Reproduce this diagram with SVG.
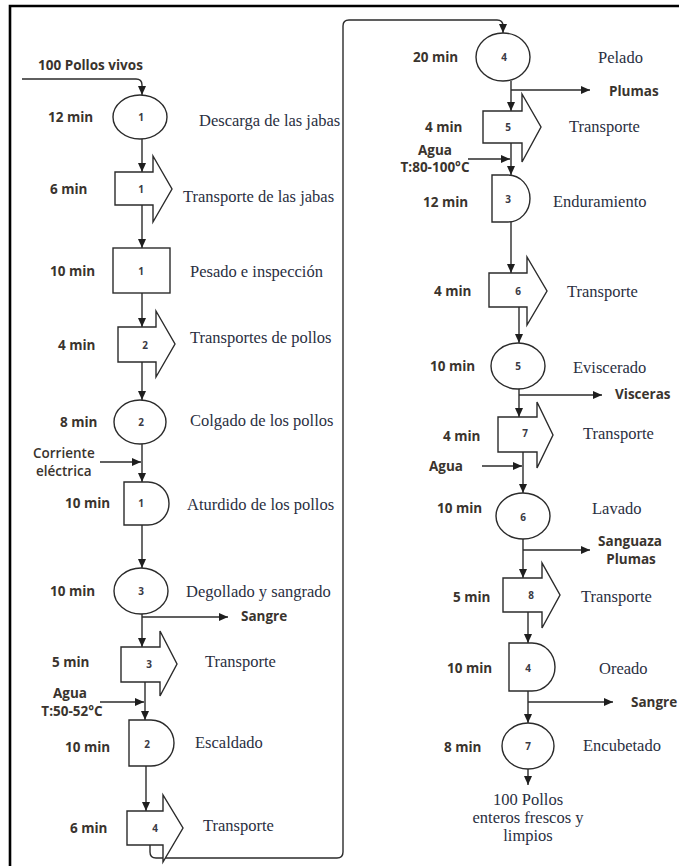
<svg xmlns="http://www.w3.org/2000/svg" width="679" height="866" viewBox="0 0 679 866">
<style>
.sh{fill:#fff;stroke:#2b2b2b;stroke-width:1.4}
.ln{fill:none;stroke:#2b2b2b;stroke-width:1.4}
.ar{marker-end:url(#ah)}
.t{font-family:"Open Sans","Liberation Sans",sans-serif;font-weight:bold;font-size:13.5px;fill:#3a342e;dominant-baseline:central}
.n{font-family:"Open Sans","Liberation Sans",sans-serif;font-weight:bold;font-size:10px;fill:#3a3a44;text-anchor:middle;dominant-baseline:central}
.s{font-family:"Liberation Serif","Times New Roman",serif;font-size:16.5px;fill:#2a2f3f;dominant-baseline:central}
.m{text-anchor:middle}
</style>
<defs>
<marker id="ah" markerUnits="userSpaceOnUse" markerWidth="9" markerHeight="8" refX="9" refY="4" orient="auto">
<path d="M0,0 L9,4 L0,8 z" fill="#1e1e1e"/>
</marker>
</defs>
<rect width="679" height="866" fill="#fff"/>
<g id="frame">
<path d="M10,866 V6 H679" fill="none" stroke="#000" stroke-width="2.6"/>
</g>
<g id="connectors">
<path class="ln ar" d="M22,79 H136 Q142,79 142,85 V95"/>
<path class="ln ar" d="M142,139 V172"/>
<path class="ln ar" d="M142,205 V248"/>
<path class="ln ar" d="M142,293 V327"/>
<path class="ln ar" d="M142,362 V400"/>
<path class="ln ar" d="M100,462 H141"/>
<path class="ln ar" d="M142,444 V482"/>
<path class="ln ar" d="M142,525 V568"/>
<path class="ln ar" d="M142,614 V647"/>
<path class="ln ar" d="M142,617 H228"/>
<path class="ln ar" d="M100,702 H144"/>
<path class="ln ar" d="M145,682 V720"/>
<path class="ln ar" d="M146,766 V811"/>
<path class="ln ar" d="M150,845 V852 Q150,858 156,858 H337 Q343,858 343,852 V26 Q343,20 349,20 H497 Q503,20 503,26 V33"/>
<path class="ln ar" d="M511,81 V111"/>
<path class="ln ar" d="M511,90 H590"/>
<path class="ln ar" d="M468,159 H510"/>
<path class="ln ar" d="M511,143 V175"/>
<path class="ln ar" d="M511,222 V273"/>
<path class="ln ar" d="M519,307 V343"/>
<path class="ln ar" d="M519,389 V417"/>
<path class="ln ar" d="M519,395 H602"/>
<path class="ln ar" d="M482,466 H522"/>
<path class="ln ar" d="M523,452 V493"/>
<path class="ln ar" d="M523,539 V578"/>
<path class="ln ar" d="M523,550 H590"/>
<path class="ln ar" d="M528,612 V643"/>
<path class="ln ar" d="M528,691 V723"/>
<path class="ln ar" d="M528,702 H613"/>
<path class="ln ar" d="M528,769 V785"/>
</g>
<g id="input">
<text class="t" x="38" y="65">100 Pollos vivos</text>
</g>
<g id="op1">
<ellipse class="sh" cx="140" cy="117" rx="27" ry="22"/>
<text class="n" x="141" y="117">1</text>
<text class="t" x="48" y="117">12 min</text>
<text class="s" x="199" y="120">Descarga de las jabas</text>
</g>
<g id="tr1">
<path class="sh" d="M115,172 H153 V156 L172,189 L153,222 V205 H115 Z"/>
<text class="n" x="141" y="189">1</text>
<text class="t" x="50" y="189">6 min</text>
<text class="s" x="183" y="196">Transporte de las jabas</text>
</g>
<g id="insp1">
<rect class="sh" x="113" y="248" width="57" height="45"/>
<text class="n" x="141" y="271">1</text>
<text class="t" x="50" y="271">10 min</text>
<text class="s" x="190" y="271">Pesado e inspección</text>
</g>
<g id="tr2">
<path class="sh" d="M118,327 H156 V311 L175,344 L156,377 V362 H118 Z"/>
<text class="n" x="145" y="345">2</text>
<text class="t" x="58" y="345">4 min</text>
<text class="s" x="190" y="337">Transportes de pollos</text>
</g>
<g id="op2">
<ellipse class="sh" cx="140" cy="422" rx="26" ry="22"/>
<text class="n" x="141" y="422">2</text>
<text class="t" x="60" y="422">8 min</text>
<text class="s" x="190" y="420">Colgado de los pollos</text>
</g>
<g id="in-corriente">
<text class="t" x="33" y="453" style="font-weight:600">Corriente</text>
<text class="t" x="36" y="471" style="font-weight:600">eléctrica</text>
</g>
<g id="d1">
<path class="sh" d="M124,482 H148 A21,21.5 0 0 1 148,525 H124 Z"/>
<text class="n" x="141" y="503">1</text>
<text class="t" x="65" y="503">10 min</text>
<text class="s" x="187" y="504">Aturdido de los pollos</text>
</g>
<g id="op3">
<ellipse class="sh" cx="141" cy="591" rx="27" ry="23"/>
<text class="n" x="141" y="591">3</text>
<text class="t" x="50" y="591">10 min</text>
<text class="s" x="186" y="591">Degollado y sangrado</text>
</g>
<g id="out-sangre1">
<text class="t" x="241" y="616">Sangre</text>
</g>
<g id="tr3">
<path class="sh" d="M121,647 H160 V631 L177,664 L160,696 V682 H121 Z"/>
<text class="n" x="149" y="664">3</text>
<text class="t" x="52" y="662">5 min</text>
<text class="s" x="205" y="661">Transporte</text>
</g>
<g id="in-agua1">
<text class="t m" x="70" y="693">Agua</text>
<text class="t m" x="72" y="711">T:50-52°C</text>
</g>
<g id="d2">
<path class="sh" d="M129,720 H151 A23,23 0 0 1 151,766 H129 Z"/>
<text class="n" x="147" y="744">2</text>
<text class="t" x="65" y="747">10 min</text>
<text class="s" x="195" y="742">Escaldado</text>
</g>
<g id="tr4">
<path class="sh" d="M127,811 H163 V795 L183,828 L163,862 V845 H127 Z"/>
<text class="n" x="155" y="828">4</text>
<text class="t" x="70" y="828">6 min</text>
<text class="s" x="203" y="825">Transporte</text>
</g>
<g id="op4">
<ellipse class="sh" cx="503" cy="57" rx="27" ry="24"/>
<text class="n" x="504" y="57">4</text>
<text class="t" x="413" y="57">20 min</text>
<text class="s" x="598" y="57">Pelado</text>
</g>
<g id="out-plumas1">
<text class="t" x="609" y="91">Plumas</text>
</g>
<g id="tr5">
<path class="sh" d="M483,111 H522 V94 L541,127 L522,162 V143 H483 Z"/>
<text class="n" x="508" y="127">5</text>
<text class="t" x="425" y="127">4 min</text>
<text class="s" x="569" y="126">Transporte</text>
</g>
<g id="in-agua2">
<text class="t m" x="435" y="150">Agua</text>
<text class="t m" x="435" y="167">T:80-100°C</text>
</g>
<g id="d3">
<path class="sh" d="M492,175 H508 A22,23.5 0 0 1 508,222 H492 Z"/>
<text class="n" x="508" y="199">3</text>
<text class="t" x="423" y="202">12 min</text>
<text class="s" x="553" y="201">Enduramiento</text>
</g>
<g id="tr6">
<path class="sh" d="M489,273 H527 V257 L547,291 L527,325 V307 H489 Z"/>
<text class="n" x="518" y="291">6</text>
<text class="t" x="434" y="291">4 min</text>
<text class="s" x="567" y="291">Transporte</text>
</g>
<g id="op5">
<ellipse class="sh" cx="518" cy="366" rx="27" ry="23"/>
<text class="n" x="518" y="366">5</text>
<text class="t" x="430" y="366">10 min</text>
<text class="s" x="573" y="367">Eviscerado</text>
</g>
<g id="out-visceras">
<text class="t" x="615" y="394">Visceras</text>
</g>
<g id="tr7">
<path class="sh" d="M498,417 H537 V402 L553,435 L537,468 V452 H498 Z"/>
<text class="n" x="525" y="433">7</text>
<text class="t" x="443" y="436">4 min</text>
<text class="s" x="583" y="433">Transporte</text>
</g>
<g id="in-agua3">
<text class="t" x="429" y="466">Agua</text>
</g>
<g id="op6">
<ellipse class="sh" cx="523" cy="516" rx="27" ry="23"/>
<text class="n" x="523" y="517">6</text>
<text class="t" x="437" y="508">10 min</text>
<text class="s" x="592" y="508">Lavado</text>
</g>
<g id="out-sanguaza">
<text class="t m" x="630" y="541">Sanguaza</text>
<text class="t m" x="631" y="559">Plumas</text>
</g>
<g id="tr8">
<path class="sh" d="M503,578 H542 V563 L560,595 L542,628 V612 H503 Z"/>
<text class="n" x="531" y="595">8</text>
<text class="t" x="453" y="597">5 min</text>
<text class="s" x="581" y="596">Transporte</text>
</g>
<g id="d4">
<path class="sh" d="M509,643 H532 A23,24 0 0 1 532,691 H509 Z"/>
<text class="n" x="528" y="668">4</text>
<text class="t" x="447" y="668">10 min</text>
<text class="s" x="599" y="668">Oreado</text>
</g>
<g id="out-sangre2">
<text class="t" x="631" y="702">Sangre</text>
</g>
<g id="op7">
<ellipse class="sh" cx="528" cy="746" rx="26" ry="23"/>
<text class="n" x="528" y="746">7</text>
<text class="t" x="444" y="747">8 min</text>
<text class="s" x="583" y="745">Encubetado</text>
</g>
<g id="output">
<text class="s m" x="528" y="799">100 Pollos</text>
<text class="s m" x="528" y="817">enteros frescos y</text>
<text class="s m" x="528" y="835">limpios</text>
</g>
</svg>
